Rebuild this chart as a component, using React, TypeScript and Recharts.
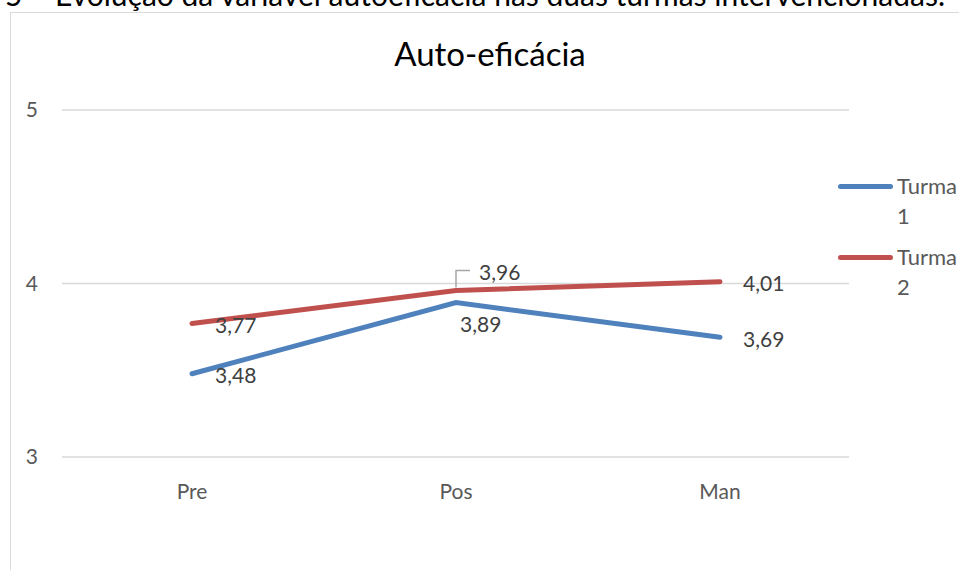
import React from 'react';
import { LineChart, Line, XAxis, YAxis, CartesianGrid, Legend, LabelList } from 'recharts';

const categories = ['Pre', 'Pos', 'Man'];
const turma1 = [3.48, 3.89, 3.69];
const turma2 = [3.77, 3.96, 4.01];
const yTicks = [3, 4, 5];
const seriesNames = ['Turma 1', 'Turma 2'];
const chartTitle = 'Auto-eficácia';
const caption = 'Gráfico 5 – Evolução da variável autoeficácia nas duas turmas intervencionadas.';

const BLUE = '#4F81BD';
const RED = '#C0504D';
const FONT = 'Lato, "Open Sans", sans-serif';

const data = categories.map((name, i) => ({
  name,
  t1: turma1[i],
  t2: turma2[i],
}));

const fmt = (v: number) => v.toFixed(2).replace('.', ',');

// label placement per point: 'right' | 'below' | 'leader'
const makeLabel = (places: string[]) => (props: any) => {
  const { x, y, value, index } = props;
  const place = places[index];
  const common = { fontSize: 21, fill: '#404040', fontFamily: FONT, dominantBaseline: 'central' as const };
  if (place === 'below') {
    return <text x={x + 4} y={y + 21} {...common}>{fmt(value)}</text>;
  }
  if (place === 'leader') {
    return (
      <g>
        <path d={`M${x},${y - 3} V${y - 20} H${x + 14}`} stroke="#a6a6a6" strokeWidth={1.5} fill="none" />
        <text x={x + 23} y={y - 19} {...common}>{fmt(value)}</text>
      </g>
    );
  }
  return <text x={x + 23} y={y + 1} {...common}>{fmt(value)}</text>;
};

const renderLegend = () => (
  <div style={{ fontFamily: FONT, fontSize: 22, color: '#595959' }}>
    {seriesNames.map((name, i) => (
      <div key={name} style={{ display: 'flex', alignItems: 'flex-start', marginBottom: 11 }}>
        <div style={{ width: 55, height: 30, position: 'relative' }}>
          <div
            style={{
              position: 'absolute',
              top: 13,
              left: 0,
              width: 55,
              height: 5,
              borderRadius: 3,
              background: i === 0 ? BLUE : RED,
            }}
          />
        </div>
        <div style={{ width: 62, marginLeft: 4, lineHeight: '30px' }}>{name}</div>
      </div>
    ))}
  </div>
);

export default function App() {
  return (
    <div style={{ position: 'relative', width: 959, height: 570, overflow: 'hidden', background: '#fff' }}>
      <style>{'body{margin:0;overflow:hidden}'}</style>
      <div
        style={{
          position: 'absolute',
          right: 14,
          top: -21,
          whiteSpace: 'nowrap',
          fontFamily: FONT,
          fontSize: 30,
          lineHeight: '30px',
          color: '#000',
        }}
      >
        {caption}
      </div>
      <div
        style={{
          position: 'absolute',
          left: 10,
          top: 12,
          width: 1000,
          height: 620,
          border: '1px solid #d9d9d9',
        }}
      />
      <div style={{ position: 'absolute', left: 0, top: 0 }}>
        <LineChart width={959} height={570} data={data} margin={{ top: 110, right: 110, bottom: 73, left: 0 }}>
          <text x={490} y={66} textAnchor="middle" fontSize={33} fontFamily={FONT} fill="#000">
            {chartTitle}
          </text>
          <CartesianGrid vertical={false} stroke="#d9d9d9" strokeWidth={1.5} />
          <XAxis
            dataKey="name"
            height={40}
            axisLine={false}
            tickLine={false}
            tickSize={0}
            tickMargin={27}
            padding={{ left: 130, right: 129 }}
            tick={{ fontSize: 21, fill: '#595959', fontFamily: FONT }}
          />
          <YAxis
            width={62}
            domain={[3, 5]}
            ticks={yTicks}
            axisLine={false}
            tickLine={false}
            tickSize={0}
            tickMargin={24}
            tick={{ fontSize: 21, fill: '#595959', fontFamily: FONT }}
          />
          <Legend layout="vertical" align="center" verticalAlign="middle" content={renderLegend}
            wrapperStyle={{ left: 838, top: 171, width: 130 }} />
          <Line dataKey="t1" name={seriesNames[0]} stroke={BLUE} strokeWidth={5} strokeLinecap="round"
            dot={false} activeDot={false} isAnimationActive={false}>
            <LabelList dataKey="t1" content={makeLabel(['right', 'below', 'right'])} />
          </Line>
          <Line dataKey="t2" name={seriesNames[1]} stroke={RED} strokeWidth={5} strokeLinecap="round"
            dot={false} activeDot={false} isAnimationActive={false}>
            <LabelList dataKey="t2" content={makeLabel(['right', 'leader', 'right'])} />
          </Line>
        </LineChart>
      </div>
    </div>
  );
}
